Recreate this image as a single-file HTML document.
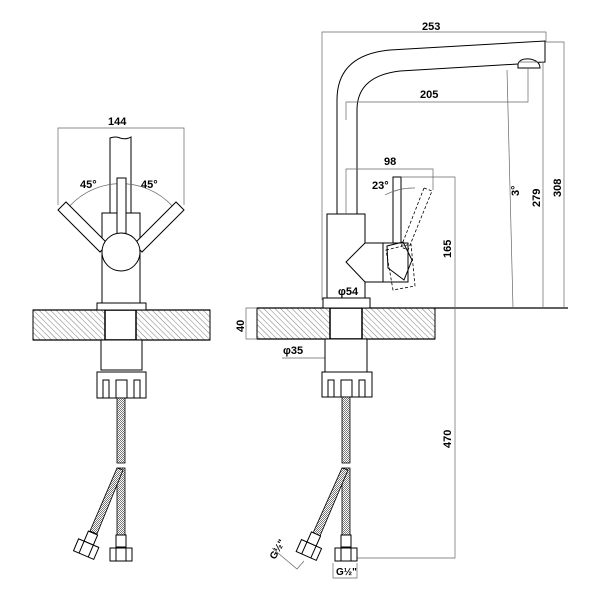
<!DOCTYPE html>
<html><head><meta charset="utf-8"><style>body{margin:0;background:#fff}svg{display:block}text{font-family:"Liberation Sans",Arial,sans-serif;font-weight:bold;font-size:11px;fill:#000}</style></head><body>
<svg width="600" height="600" viewBox="0 0 600 600" xmlns="http://www.w3.org/2000/svg">
<defs>
<pattern id="h" width="4" height="4" patternUnits="userSpaceOnUse" patternTransform="rotate(-45)"><line x1="0" y1="0" x2="0" y2="4" stroke="#444" stroke-width="0.7"/></pattern>
<pattern id="m" width="2" height="2" patternUnits="userSpaceOnUse"><rect width="2" height="2" fill="#fff"/><rect width="1" height="1" fill="#777"/><rect x="1" y="1" width="1" height="1" fill="#777"/></pattern>
</defs>
<g fill="none" stroke="#000" stroke-width="1">
<!-- LEFT VIEW -->
<rect x="33" y="310" width="177" height="30" fill="url(#h)"/>
<rect x="105" y="310" width="31" height="30" fill="#fff" stroke-width="1.5"/>
<line x1="33" y1="310" x2="210" y2="310" stroke-width="1.3"/>
<line x1="33" y1="340" x2="210" y2="340" stroke-width="1.3"/>
<polyline points="58,205 58,128 184,128 184,205" stroke="#666" stroke-width="0.7"/>
<path d="M110,213 V138 Q116,136 120,138 Q126,140 131,137 V213" fill="#fff"/>
<path d="M64,213 A70,70 0 0 1 178,213" stroke="#666" stroke-width="0.7"/>
<rect x="102" y="213" width="38" height="90" fill="#fff"/>
<rect x="117" y="178" width="9" height="70" fill="#fff"/>
<polygon points="58,210 66,202 108,244 100,252" fill="#fff"/>
<polygon points="184,210 176,202 134,244 142,252" fill="#fff"/>
<circle cx="121" cy="252" r="19" fill="#fff"/>
<rect x="97" y="303" width="49" height="7" fill="#fff"/>
<rect x="101" y="340" width="41" height="30" fill="#fff"/>
<rect x="97" y="372" width="49" height="26" fill="#fff"/>
<path d="M103,398 V380 H109 V398 M116,398 V380 H127 V398 M134,398 V380 H140 V398"/>
<rect x="117" y="398" width="8" height="65" fill="url(#m)" stroke-width="0.8"/>
<rect x="117" y="468" width="8" height="67" fill="url(#m)" stroke-width="0.8"/>
<polygon points="117,468 123,470 97,534 90,531" fill="url(#m)" stroke-width="0.8"/>
<rect x="116" y="535" width="10" height="12" fill="#fff"/>
<rect x="110" y="548" width="22" height="13" fill="#fff"/>
<line x1="116" y1="548" x2="116" y2="561"/><line x1="126" y1="548" x2="126" y2="561"/>
<g transform="translate(93 533) rotate(23)"><rect x="-5" y="0" width="10" height="11" fill="#fff"/><rect x="-11" y="11" width="22" height="13" fill="#fff"/><line x1="-5" y1="11" x2="-5" y2="24"/><line x1="5" y1="11" x2="5" y2="24"/></g>
<!-- RIGHT VIEW -->
<rect x="257" y="308" width="178" height="31" fill="url(#h)"/>
<rect x="330" y="308" width="32" height="31" fill="#fff" stroke-width="1.5"/>
<line x1="257" y1="308" x2="568" y2="308" stroke-width="1.3"/>
<line x1="257" y1="339" x2="435" y2="339" stroke-width="1.3"/>
<path d="M337,214 V100 Q337,55 390,50 L545,41 V62 L518,64 L400,71 Q357,76 357,110 V214" fill="#fff"/>
<path d="M518,64 Q520,58 530,59 Q540,61 540,68 H518 Z" fill="#fff"/>
<rect x="327" y="214" width="38" height="89" fill="#fff"/>
<rect x="323" y="298" width="47" height="10" fill="#fff"/>
<polygon points="365,243 346,262 365,282 383,282 383,243" fill="#fff"/>
<rect x="393" y="177" width="8" height="66" fill="#fff"/>
<rect x="383" y="243" width="25" height="39" fill="#fff"/>
<polygon points="387,246 403,242 412,260 404,280 388,268"/>
<g stroke-dasharray="3,2" stroke-width="0.8">
<polygon points="424,188 432,191 408,250 401,247"/>
<polygon points="386,250 411,244 415,286 393,290"/>
</g>
<path d="M385,195 A60,60 0 0 1 415,188" stroke="#666" stroke-width="0.7"/>
<g stroke="#666" stroke-width="0.7">
<polyline points="322,300 322,32 546,32 546,42"/>
<polyline points="346,120 346,102 528,102 528,68"/>
<polyline points="346,214 346,169 433,169 433,190"/>
<polyline points="401,177 455,177 455,558 355,558"/>
<polyline points="546,42 564,42 564,308"/>
<polyline points="518,62 543,62 543,308"/>
<line x1="507" y1="70" x2="513" y2="308"/>
<polyline points="257,308 246,308 246,339 257,339"/>
<polyline points="282,358 363,358 363,340"/>
</g>
<rect x="325" y="339" width="42" height="33" fill="#fff"/>
<rect x="322" y="372" width="50" height="25" fill="#fff"/>
<path d="M328,397 V380 H334 V397 M341,397 V380 H352 V397 M359,397 V380 H365 V397"/>
<rect x="342" y="397" width="8" height="66" fill="url(#m)" stroke-width="0.8"/>
<rect x="342" y="468" width="8" height="67" fill="url(#m)" stroke-width="0.8"/>
<polygon points="342,468 348,470 320,536 313,533" fill="url(#m)" stroke-width="0.8"/>
<rect x="341" y="535" width="10" height="12" fill="#fff"/>
<rect x="335" y="548" width="22" height="13" fill="#fff"/>
<line x1="341" y1="548" x2="341" y2="561"/><line x1="351" y1="548" x2="351" y2="561"/>
<g transform="translate(316 534) rotate(24)"><rect x="-5" y="0" width="10" height="11" fill="#fff"/><rect x="-11" y="11" width="22" height="13" fill="#fff"/><line x1="-5" y1="11" x2="-5" y2="24"/><line x1="5" y1="11" x2="5" y2="24"/></g>
<polyline points="333,563 333,578 357,578 357,563" stroke="#666" stroke-width="0.7"/>
<polyline points="272,548 297,569 304,561" stroke="#666" stroke-width="0.7"/>
</g>
<text x="108" y="125">144</text>
<text x="80" y="188">45°</text>
<text x="141" y="188">45°</text>
<text x="422" y="30">253</text>
<text x="420" y="98">205</text>
<text x="384" y="165">98</text>
<text x="372" y="189">23°</text>
<text x="338" y="295">φ54</text>
<text x="283" y="354">φ35</text>
<text transform="translate(244,332) rotate(-90)">40</text>
<text transform="translate(451,258) rotate(-90)">165</text>
<text transform="translate(451,448) rotate(-90)">470</text>
<text transform="translate(519,196) rotate(-90)">3°</text>
<text transform="translate(540,207) rotate(-90)">279</text>
<text transform="translate(561,197) rotate(-90)">308</text>
<text x="336" y="575" style="font-size:10px">G½"</text>
<text transform="translate(275,560) rotate(-60)" style="font-size:10px">G½"</text>
</svg>
</body></html>
